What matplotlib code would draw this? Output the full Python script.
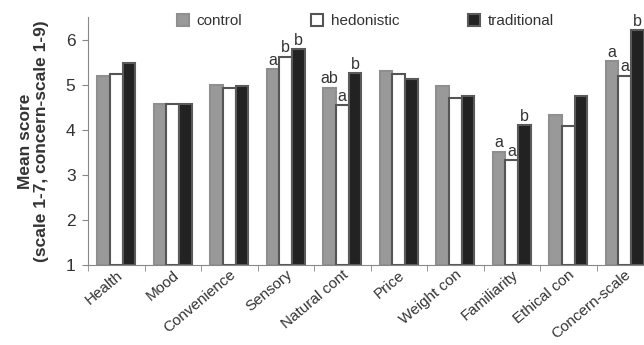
import numpy as np
import matplotlib.pyplot as plt

plt.rcParams['font.family'] = ['Liberation Sans', 'DejaVu Sans']

categories = ['Health', 'Mood', 'Convenience', 'Sensory', 'Natural cont', 'Price',
              'Weight con', 'Familiarity', 'Ethical con', 'Concern-scale']
control = [5.20, 4.58, 5.00, 5.34, 4.93, 5.30, 4.98, 3.51, 4.32, 5.52]
hedonistic = [5.23, 4.58, 4.93, 5.62, 4.55, 5.23, 4.71, 3.32, 4.08, 5.20]
traditional = [5.48, 4.58, 4.96, 5.79, 5.25, 5.12, 4.74, 4.10, 4.75, 6.21]

# significance letters (category index -> letters for control, hedonistic, traditional)
letters = {3: ['a', 'b', 'b'], 4: ['ab', 'a', 'b'], 7: ['a', 'a', 'b'], 9: ['a', 'a', 'b']}

txt = '#333333'
fig = plt.figure(figsize=(6.44, 3.45), dpi=100)
ax = fig.add_axes([88 / 644, 80 / 345, 565 / 644, 248 / 345])

x = np.arange(len(categories))
w = 0.225
base = 1
series = [control, hedonistic, traditional]
styles = [dict(color='#999999', edgecolor='#8f8f8f'),
          dict(color='white', edgecolor='#555555'),
          dict(color='#222222', edgecolor='#5a5a5a')]
names = ['control', 'hedonistic', 'traditional']
for k, (vals, st, nm) in enumerate(zip(series, styles, names)):
    h = np.array(vals) - base
    ax.bar(x + (k - 1) * w, h, w, bottom=base, linewidth=1.5, label=nm, **st)

for i, labs in letters.items():
    for k, lab in enumerate(labs):
        ax.annotate(lab, (x[i] + (k - 1) * w, series[k][i]), xytext=(0, 1),
                    textcoords='offset points', ha='center', va='bottom',
                    fontsize=11.5, color=txt)

ax.set_xlim(-0.5, 9.5)
ax.set_ylim(1, 6.5)
ax.set_yticks([1, 2, 3, 4, 5, 6])
ax.set_xticks(x)
ax.set_xticklabels(categories, rotation=40, ha='right', rotation_mode='anchor',
                   fontsize=11, color=txt)
ax.set_xticks(np.arange(len(categories) + 1) - 0.5, minor=True)
ax.tick_params(axis='x', which='major', length=0, pad=2)
ax.tick_params(axis='x', which='minor', length=4, color='#888888')
ax.tick_params(axis='y', length=4, color='#888888', labelsize=12.5, labelcolor=txt, pad=5)
for s in ['top', 'right']:
    ax.spines[s].set_visible(False)
for s in ['left', 'bottom']:
    ax.spines[s].set_color('#888888')

ax.set_ylabel('Mean score\n(scale 1-7, concern-scale 1-9)', fontsize=12.5,
              fontweight='bold', color=txt, labelpad=12, linespacing=1.1)

ax.legend(loc='upper center', bbox_to_anchor=(0.491, 1.068), ncol=3, frameon=False,
          fontsize=11, handlelength=0.8, handleheight=0.8, handletextpad=0.5,
          columnspacing=4.5, labelcolor=txt)

fig.savefig('out.png', dpi=100)
